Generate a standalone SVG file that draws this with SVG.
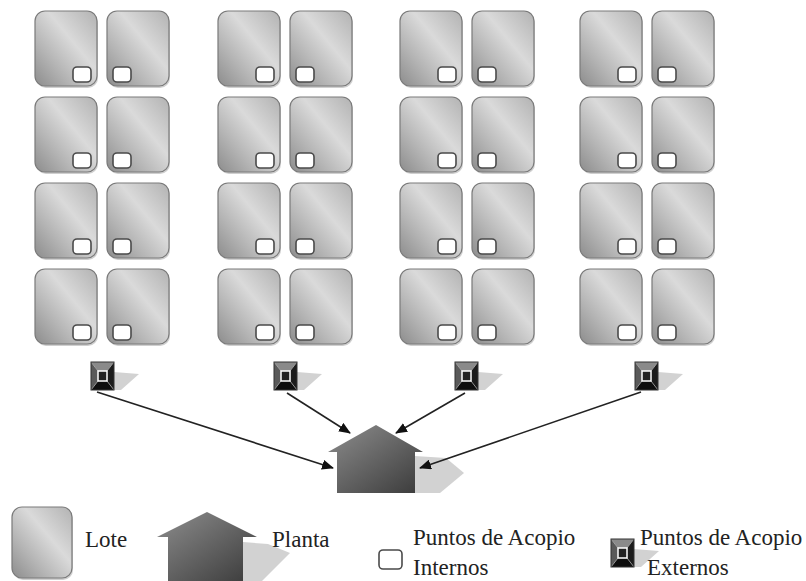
<svg xmlns="http://www.w3.org/2000/svg" xmlns:xlink="http://www.w3.org/1999/xlink" width="806" height="581" viewBox="0 0 806 581">
<style>
.lot{fill:url(#lotg);stroke:#7a7a7a;stroke-width:1.2}
.lsh{fill:#cfcfcf}
.pi{fill:#fff;stroke:#4a4a4a;stroke-width:1.6}
.conn{stroke:#222;stroke-width:1.6;fill:none;marker-end:url(#ah)}
.shd{fill:#d2d2d2}
.txt{font-family:"Liberation Serif","Times New Roman",serif;font-size:23px;fill:#222}
</style>
<defs>
<linearGradient id="lotg" x1="0" y1="1" x2="1" y2="0">
<stop offset="0" stop-color="#8c8c8c"/>
<stop offset="0.3" stop-color="#b4b4b4"/>
<stop offset="0.6" stop-color="#dadada"/>
<stop offset="1" stop-color="#b2b2b2"/>
</linearGradient>
<linearGradient id="houseg" x1="0" y1="0" x2="1" y2="1">
<stop offset="0" stop-color="#8e8e8e"/>
<stop offset="1" stop-color="#3a3a3a"/>
</linearGradient>
<marker id="ah" markerWidth="12" markerHeight="10" refX="11" refY="5" orient="auto" markerUnits="userSpaceOnUse">
<path d="M0,0 L12,5 L0,10 Z" fill="#111"/>
</marker>
<g id="ext">
<polygon class="shd" points="23,10 48,12 30,28 23,28"/>
<rect x="0" y="0" width="23" height="28" fill="#222"/>
<polygon points="0,0 23,0 16,9 7,9" fill="#8a8a8a"/>
<polygon points="0,0 7,9 7,19 0,28" fill="#5a5a5a"/>
<polygon points="23,0 16,9 16,19 23,28" fill="#1c1c1c"/>
<polygon points="0,28 7,19 16,19 23,28" fill="#0e0e0e"/>
<path d="M0,0 L7,9 M23,0 L16,9 M0,28 L7,19 M23,28 L16,19" stroke="#b0b0b0" stroke-width="0.8"/>
<rect x="7" y="9" width="9" height="10" fill="#222" stroke="#fff" stroke-width="1.5"/>
<rect x="0" y="0" width="23" height="28" fill="none" stroke="#333" stroke-width="1"/>
</g>
<g id="lotL">
<rect class="lsh" x="1" y="2" width="62" height="75" rx="10"/>
<rect class="lot" x="0" y="0" width="62" height="75" rx="10"/>
<rect class="pi" x="38" y="56" width="18" height="15" rx="4"/>
</g>
<g id="lotR">
<rect class="lsh" x="1" y="2" width="62" height="75" rx="10"/>
<rect class="lot" x="0" y="0" width="62" height="75" rx="10"/>
<rect class="pi" x="6" y="56" width="18" height="15" rx="4"/>
</g>
</defs>
<rect width="806" height="581" fill="#fff"/>

<g id="lots">
<g id="lot-1-1"><use xlink:href="#lotL" x="35" y="11"/></g>
<g id="lot-1-2"><use xlink:href="#lotR" x="107" y="11"/></g>
<g id="lot-1-3"><use xlink:href="#lotL" x="218" y="11"/></g>
<g id="lot-1-4"><use xlink:href="#lotR" x="290" y="11"/></g>
<g id="lot-1-5"><use xlink:href="#lotL" x="400" y="11"/></g>
<g id="lot-1-6"><use xlink:href="#lotR" x="472" y="11"/></g>
<g id="lot-1-7"><use xlink:href="#lotL" x="580" y="11"/></g>
<g id="lot-1-8"><use xlink:href="#lotR" x="652" y="11"/></g>

<g id="lot-2-1"><use xlink:href="#lotL" x="35" y="97"/></g>
<g id="lot-2-2"><use xlink:href="#lotR" x="107" y="97"/></g>
<g id="lot-2-3"><use xlink:href="#lotL" x="218" y="97"/></g>
<g id="lot-2-4"><use xlink:href="#lotR" x="290" y="97"/></g>
<g id="lot-2-5"><use xlink:href="#lotL" x="400" y="97"/></g>
<g id="lot-2-6"><use xlink:href="#lotR" x="472" y="97"/></g>
<g id="lot-2-7"><use xlink:href="#lotL" x="580" y="97"/></g>
<g id="lot-2-8"><use xlink:href="#lotR" x="652" y="97"/></g>

<g id="lot-3-1"><use xlink:href="#lotL" x="35" y="183"/></g>
<g id="lot-3-2"><use xlink:href="#lotR" x="107" y="183"/></g>
<g id="lot-3-3"><use xlink:href="#lotL" x="218" y="183"/></g>
<g id="lot-3-4"><use xlink:href="#lotR" x="290" y="183"/></g>
<g id="lot-3-5"><use xlink:href="#lotL" x="400" y="183"/></g>
<g id="lot-3-6"><use xlink:href="#lotR" x="472" y="183"/></g>
<g id="lot-3-7"><use xlink:href="#lotL" x="580" y="183"/></g>
<g id="lot-3-8"><use xlink:href="#lotR" x="652" y="183"/></g>

<g id="lot-4-1"><use xlink:href="#lotL" x="35" y="269"/></g>
<g id="lot-4-2"><use xlink:href="#lotR" x="107" y="269"/></g>
<g id="lot-4-3"><use xlink:href="#lotL" x="218" y="269"/></g>
<g id="lot-4-4"><use xlink:href="#lotR" x="290" y="269"/></g>
<g id="lot-4-5"><use xlink:href="#lotL" x="400" y="269"/></g>
<g id="lot-4-6"><use xlink:href="#lotR" x="472" y="269"/></g>
<g id="lot-4-7"><use xlink:href="#lotL" x="580" y="269"/></g>
<g id="lot-4-8"><use xlink:href="#lotR" x="652" y="269"/></g>
</g>

<g id="ext-1"><use xlink:href="#ext" x="91" y="362"/></g>
<g id="ext-2"><use xlink:href="#ext" x="274" y="362"/></g>
<g id="ext-3"><use xlink:href="#ext" x="455" y="362"/></g>
<g id="ext-4"><use xlink:href="#ext" x="635" y="362"/></g>

<g id="planta">
<polygon class="shd" points="415,456 446,458 464,473 440,493 415,493"/>
<polygon points="376,425 423,452 415,452 415,493 337,493 337,452 328,452" fill="url(#houseg)"/>
</g>

<g id="connectors">
<line class="conn" x1="97" y1="392" x2="333" y2="468"/>
<line class="conn" x1="287" y1="393" x2="350" y2="433"/>
<line class="conn" x1="465" y1="393" x2="396" y2="433"/>
<line class="conn" x1="641" y1="392" x2="420" y2="468"/>
</g>

<g id="legend">
<g id="leg-lote">
<rect class="lsh" x="13" y="509" width="60" height="71" rx="10"/>
<rect class="lot" x="12" y="507" width="60" height="71" rx="10"/>
<text class="txt" x="85" y="547">Lote</text>
</g>
<g id="leg-planta">
<polygon class="shd" points="243,542 268,544 290,553 262,581 243,581"/>
<polygon points="207,512 257,537 243,537 243,581 168,581 168,537 157,537" fill="url(#houseg)"/>
<text class="txt" x="272" y="547">Planta</text>
</g>
<g id="leg-internos">
<rect class="pi" x="379" y="550" width="23" height="19" rx="4"/>
<text class="txt" x="413" y="545">Puntos de Acopio</text>
<text class="txt" x="413" y="575">Internos</text>
</g>
<g id="leg-externos">
<use xlink:href="#ext" x="611" y="539"/>
<text class="txt" x="640" y="545">Puntos de Acopio</text>
<text class="txt" x="647" y="575">Externos</text>
</g>
</g>
</svg>
